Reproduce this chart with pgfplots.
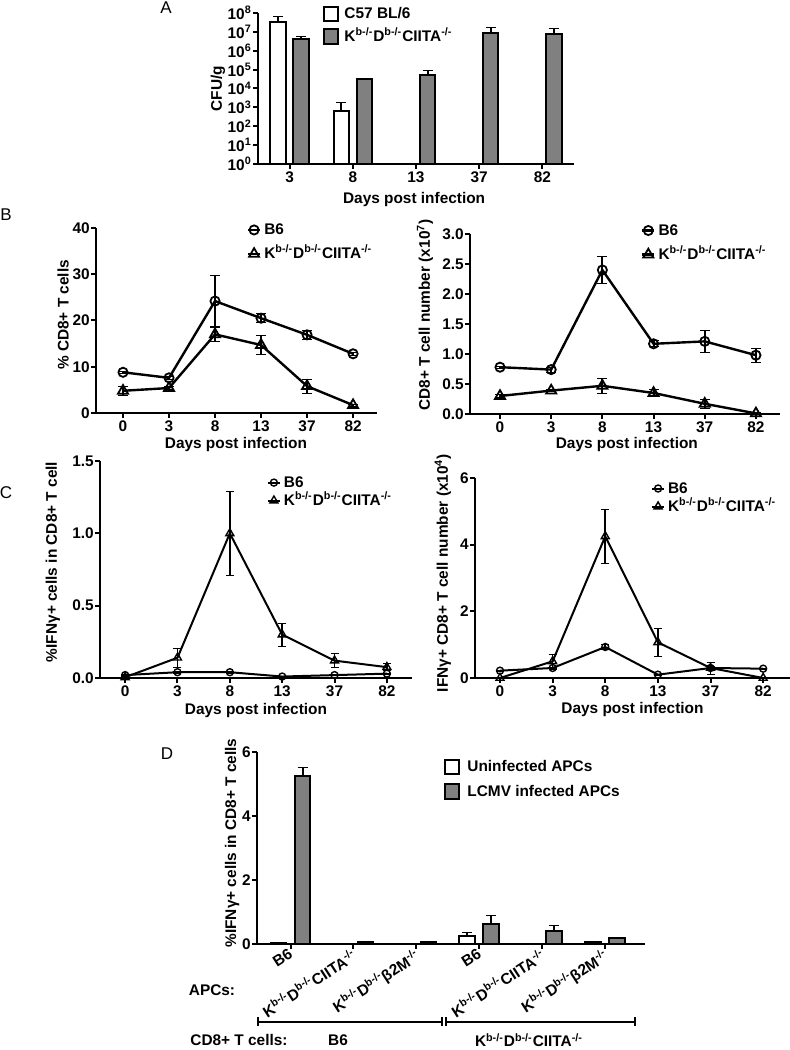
\documentclass[border=0pt]{standalone}
\usepackage{fontspec}
\setmainfont{Liberation Sans}
\usepackage{pgfplots}
\pgfplotsset{compat=1.18}
\definecolor{gpgray}{RGB}{128,128,128}
\newcommand{\fs}{\fontsize{7.7}{9.2}\selectfont\bfseries}
\newcommand{\ko}{K\textsuperscript{b-/-}D\textsuperscript{b-/-}CIITA\textsuperscript{-/-}}
\newcommand{\kob}{K\textsuperscript{b-/-}D\textsuperscript{b-/-}β2M\textsuperscript{-/-}}
\pgfplotsset{
  gp/.style={
    scale only axis, clip=false, anchor=south west,
    axis lines=left, axis line style={-, line width=1.1pt},
    tick align=outside, major tick length=2.3pt,
    tick style={line width=1pt, black},
    tick label style={font=\fs},
    yticklabel style={inner sep=0.6pt},
    xticklabel style={inner sep=1.5pt},
    label style={font=\fs},
    legend style={font=\fs, draw=none, fill=none, inner sep=0pt, outer sep=0pt,
       nodes={inner sep=0pt, text height=6pt, text depth=1.5pt},
       /tikz/every odd column/.append style={column sep=1.5pt}},
    legend cell align=left,
    xlabel style={anchor=center}, ylabel style={anchor=center},
  },
  lineleg/.style={legend image code/.code={\draw[mark repeat=2, mark phase=2, ##1] plot coordinates {(0pt,0pt) (3pt,0pt) (6pt,0pt)};}},
  boxleg/.style={legend image code/.code={\draw[##1, line width=1pt] (0pt,-3.6pt) rectangle (7.2pt,3.6pt);}},
  bmark/.style={black, line width=1.2pt, mark options={line width=0.9pt, fill=white, solid}},
  cmark/.style={black, line width=1pt, mark options={line width=0.7pt, fill=white, solid}},
}
\begin{document}
\begin{tikzpicture}
\useasboundingbox (0,0) rectangle (395pt,525pt);

% ---------------- Panel A ----------------
\begin{axis}[gp, at={(129pt,443pt)}, width=158pt, height=75.5pt,
  ymode=log, log basis y=10, ymin=1, ymax=1e8, xmin=-0.5, xmax=4.5,
  xtick={0,1,2,3,4}, xticklabels={3,8,13,37,82},
  ytickten={0,1,2,3,4,5,6,7,8},
  yticklabels={10\textsuperscript{0},10\textsuperscript{1},10\textsuperscript{2},10\textsuperscript{3},10\textsuperscript{4},10\textsuperscript{5},10\textsuperscript{6},10\textsuperscript{7},10\textsuperscript{8}},
  yminorticks=false,
  xlabel={Days post infection}, ylabel={CFU/g},
  xlabel style={at={(axis description cs:0.494,-0.238)}},
  ylabel style={at={(axis description cs:-0.127,0.5)}},
  legend style={at={(axis description cs:0.206,1.046)}, anchor=north west, row sep=3pt,
    /tikz/every odd column/.append style={column sep=2.5pt}},
]
\addplot[ybar, bar width=7.7pt, bar shift=0pt, fill=white, draw=black, line width=1pt, boxleg,
  error bars/.cd, y dir=plus, y explicit, error bar style={line width=1pt, mark size=2.5pt}]
  coordinates {(-0.182,3.5e7) +- (0,2.8e7) (0.818,670) +- (0,1230)};
\addlegendentry{C57 BL/6}
\addplot[ybar, bar width=7.7pt, bar shift=0pt, fill=gpgray, draw=black, line width=1pt, boxleg,
  error bars/.cd, y dir=plus, y explicit, error bar style={line width=1pt, mark size=2.5pt}]
  coordinates {(0.182,4.0e6) +- (0,1.5e6) (1.182,3.1e4) +- (0,0.4e4) (2.182,5.4e4) +- (0,3.4e4) (3.182,8.4e6) +- (0,8.6e6) (4.182,7.7e6) +- (0,7.3e6)};
\addlegendentry{\ko}
\end{axis}

% ---------------- Panel B left ----------------
\begin{axis}[gp, lineleg, at={(48pt,318.5pt)}, width=140.5pt, height=92.5pt,
  xmin=-0.587, xmax=5.52, ymin=0, ymax=40,
  xtick={0,1,2,3,4,5}, xticklabels={0,3,8,13,37,82},
  ytick={0,10,20,30,40}, yticklabels={0,10,20,30,40},
  xlabel={Days post infection}, ylabel={\% CD8+ T cells},
  xlabel style={at={(axis description cs:0.498,-0.173)}},
  ylabel style={at={(axis description cs:-0.117,0.53)}},
  legend style={at={(axis description cs:0.537,1.03)}, anchor=north west, row sep=4.5pt},
]
\addplot[bmark, mark=o, mark size=2.3pt,
  error bars/.cd, y dir=both, y explicit, error bar style={line width=1pt, mark size=2.5pt}]
  table[x=x, y=y, y error=e] {
x y e
0 8.8 0.3
1 7.6 0.3
2 24.2 5.5
3 20.5 1.0
4 16.9 1.0
5 12.8 0.3
};
\addlegendentry{B6}
\addplot[bmark, mark=triangle, mark size=2.9pt,
  error bars/.cd, y dir=both, y explicit, error bar style={line width=1pt, mark size=2.5pt}]
  table[x=x, y=y, y error=e] {
x y e
0 4.8 1.0
1 5.4 0.3
2 17.0 1.5
3 14.7 2.0
4 5.8 1.5
5 1.7 0.2
};
\addlegendentry{\ko}
\end{axis}

% ---------------- Panel B right ----------------
\begin{axis}[gp, lineleg, at={(235pt,318pt)}, width=155pt, height=90pt,
  xmin=-0.586, xmax=5.47, ymin=0, ymax=3,
  xtick={0,1,2,3,4,5}, xticklabels={0,3,8,13,37,82},
  ytick={0,0.5,1,1.5,2,2.5,3}, yticklabels={0.0,0.5,1.0,1.5,2.0,2.5,3.0},
  xlabel={Days post infection}, ylabel={CD8+ T cell number (x10\textsuperscript{7})},
  xlabel style={at={(axis description cs:0.506,-0.172)}},
  ylabel style={at={(axis description cs:-0.145,0.55)}},
  legend style={at={(axis description cs:0.552,1.061)}, anchor=north west, row sep=4.5pt},
]
\addplot[bmark, mark=o, mark size=2.3pt,
  error bars/.cd, y dir=both, y explicit, error bar style={line width=1pt, mark size=2.5pt}]
  table[x=x, y=y, y error=e] {
x y e
0 0.78 0.02
1 0.74 0.04
2 2.40 0.23
3 1.17 0.05
4 1.21 0.18
5 0.98 0.12
};
\addlegendentry{B6}
\addplot[bmark, mark=triangle, mark size=2.9pt,
  error bars/.cd, y dir=both, y explicit, error bar style={line width=1pt, mark size=2.5pt}]
  table[x=x, y=y, y error=e] {
x y e
0 0.30 0.02
1 0.39 0.02
2 0.47 0.13
3 0.35 0.06
4 0.17 0.07
5 0.01 0.01
};
\addlegendentry{\ko}
\end{axis}

% ---------------- Panel C left ----------------
\begin{axis}[gp, lineleg, at={(50pt,186pt)}, width=156pt, height=108.5pt,
  xmin=-0.48, xmax=5.48, ymin=0, ymax=1.5,
  xtick={0,1,2,3,4,5}, xticklabels={0,3,8,13,37,82},
  ytick={0,0.5,1,1.5}, yticklabels={0.0,0.5,1.0,1.5},
  xlabel={Days post infection}, ylabel={\%IFNγ+ cells in CD8+ T cell},
  xlabel style={at={(axis description cs:0.5,-0.152)}},
  ylabel style={at={(axis description cs:-0.151,0.535)}},
  legend style={at={(axis description cs:0.535,0.935)}, anchor=north west, row sep=1.5pt},
]
\addplot[cmark, mark=o, mark size=1.75pt,
  error bars/.cd, y dir=both, y explicit, error bar style={line width=0.8pt, mark size=2pt}]
  table[x=x, y=y, y error=e] {
x y e
0 0.02 0.005
1 0.04 0.005
2 0.04 0.005
3 0.01 0.003
4 0.02 0.005
5 0.03 0.005
};
\addlegendentry{B6}
\addplot[cmark, mark=triangle, mark size=2.3pt,
  error bars/.cd, y dir=both, y explicit, error bar style={line width=0.8pt, mark size=2pt}]
  table[x=x, y=y, y error=e] {
x y e
0 0.005 0.005
1 0.14 0.065
2 1.00 0.29
3 0.30 0.08
4 0.12 0.05
5 0.075 0.025
};
\addlegendentry{\ko}
\end{axis}

% ---------------- Panel C right ----------------
\begin{axis}[gp, lineleg, at={(237.5pt,186pt)}, width=157.5pt, height=100pt,
  xmin=-0.475, xmax=5.51, ymin=0, ymax=6,
  xtick={0,1,2,3,4,5}, xticklabels={0,3,8,13,37,82},
  ytick={0,2,4,6}, yticklabels={0,2,4,6},
  xlabel={Days post infection}, ylabel={IFNγ+ CD8+ T cell number (x10\textsuperscript{4})},
  xlabel style={at={(axis description cs:0.5,-0.16)}},
  ylabel style={at={(axis description cs:-0.102,0.525)}},
  legend style={at={(axis description cs:0.559,0.985)}, anchor=north west, row sep=1.5pt},
]
\addplot[cmark, mark=o, mark size=1.75pt,
  error bars/.cd, y dir=both, y explicit, error bar style={line width=0.8pt, mark size=2pt}]
  table[x=x, y=y, y error=e] {
x y e
0 0.22 0.02
1 0.30 0.03
2 0.93 0.08
3 0.10 0.02
4 0.30 0.05
5 0.28 0.02
};
\addlegendentry{B6}
\addplot[cmark, mark=triangle, mark size=2.3pt,
  error bars/.cd, y dir=both, y explicit, error bar style={line width=0.8pt, mark size=2pt}]
  table[x=x, y=y, y error=e] {
x y e
0 0.0 0.02
1 0.50 0.20
2 4.25 0.82
3 1.07 0.43
4 0.30 0.18
5 0.0 0.01
};
\addlegendentry{\ko}
\end{axis}

% ---------------- Panel D ----------------
\begin{axis}[gp, at={(128.5pt,53pt)}, width=194pt, height=96pt,
  xmin=-0.533, xmax=5.636, ymin=0, ymax=6,
  xtick={0,1,2,3,4,5}, xticklabels={B6,\ko,\kob,B6,\ko,\kob},
  x tick label style={xshift=-1pt, yshift=2pt, rotate=33, anchor=north east, inner sep=1pt},
  ytick={0,2,4,6}, yticklabels={0,2,4,6},
  ylabel={\%IFNγ+ cells in CD8+ T cells},
  ylabel style={at={(axis description cs:-0.064,0.526)}},
  legend style={at={(axis description cs:0.482,0.964)}, anchor=north west, row sep=4pt,
    /tikz/every odd column/.append style={column sep=3.5pt}},
]
\addplot[ybar, bar width=7.75pt, bar shift=0pt, fill=white, draw=black, line width=1pt, boxleg,
  error bars/.cd, y dir=plus, y explicit, error bar style={line width=1pt, mark size=2.5pt}]
  coordinates {(-0.191,0.02) +- (0,0.005) (0.809,0.01) +- (0,0.005) (1.809,0.0) +- (0,0.0) (2.809,0.26) +- (0,0.09) (3.809,0.01) +- (0,0.005) (4.809,0.05) +- (0,0.03)};
\addlegendentry{Uninfected APCs}
\addplot[ybar, bar width=7.75pt, bar shift=0pt, fill=gpgray, draw=black, line width=1pt, boxleg,
  error bars/.cd, y dir=plus, y explicit, error bar style={line width=1pt, mark size=2.5pt}]
  coordinates {(0.191,5.25) +- (0,0.28) (1.191,0.06) +- (0,0.02) (2.191,0.05) +- (0,0.02) (3.191,0.62) +- (0,0.26) (4.191,0.42) +- (0,0.15) (5.191,0.18) +- (0,0.02)};
\addlegendentry{LCMV infected APCs}
\end{axis}

% ---------------- panel letters and annotations ----------------
\node[font=\fontsize{8.5}{10}\selectfont] at (83pt,521pt) {A};
\node[font=\fontsize{8.5}{10}\selectfont] at (3pt,417.5pt) {B};
\node[font=\fontsize{8.5}{10}\selectfont] at (3pt,278.5pt) {C};
\node[font=\fontsize{8.5}{10}\selectfont] at (83.5pt,148pt) {D};
\node[font=\fs] at (106pt,30pt) {APCs:};
\node[font=\fs, anchor=west, inner sep=0pt] at (95pt,5pt) {CD8+ T cells:};
\node[font=\fs] at (169pt,5pt) {B6};
\node[font=\fs] at (264.5pt,5pt) {\ko};
\draw[line width=0.9pt] (129pt,16.25pt) -- (129pt,11.75pt) (129pt,14pt) -- (221pt,14pt) (221pt,16.25pt) -- (221pt,11.75pt);
\draw[line width=0.9pt] (223pt,16.25pt) -- (223pt,11.75pt) (223pt,14pt) -- (317.5pt,14pt) (317.5pt,16.25pt) -- (317.5pt,11.75pt);
\end{tikzpicture}
\end{document}
